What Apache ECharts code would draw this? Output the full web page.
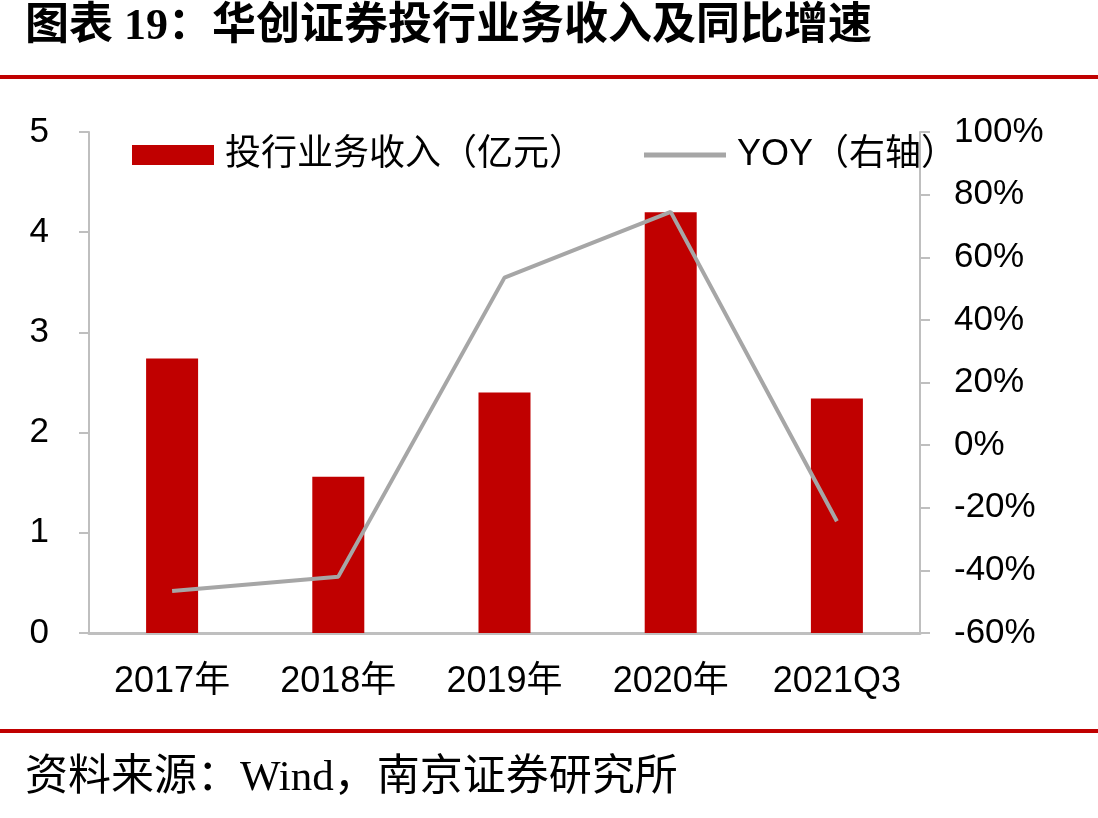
<!DOCTYPE html>
<html><head><meta charset="utf-8">
<script src="https://cdn.jsdelivr.net/npm/echarts@6/dist/echarts.min.js"></script>
<style>html,body{margin:0;padding:0;background:#fff}#c{width:1098px;height:818px}</style>
</head><body><div id="c"></div>
<script>
const categories = ['2017年','2018年','2019年','2020年','2021Q3'];
const revenue = [2.74, 1.56, 2.40, 4.20, 2.34];
const yoy = [-46.6, -42.0, 53.5, 74.5, -24.3];
const leftTicks = [0,1,2,3,4,5];
const rightTicks = [-60,-40,-20,0,20,40,60,80,100];
const titleText = '图表 19：华创证券投行业务收入及同比增速';
const sourceText = '资料来源：Wind，南京证券研究所';
const barName = '投行业务收入（亿元）';
const lineName = 'YOY（右轴）';

const chart = echarts.init(document.getElementById('c'));
const axisGray = '#BFBFBF';
const sans = 'Arial, "Liberation Sans", "Noto Sans CJK SC", sans-serif';
const serif = '"Liberation Serif", "Noto Sans CJK SC", serif';
chart.setOption({
  animation: false,
  backgroundColor: '#fff',
  grid: {left: 89, right: 178, top: 132, bottom: 185, containLabel: false},
  legend: {
    top: 132, left: 127,
    itemGap: 59,
    itemWidth: 82, itemHeight: 20,
    textStyle: {fontSize: 36, color: '#000', fontFamily: sans, padding: [0,0,0,6]},
    data: [
      {name: barName, icon: 'rect'},
      {name: lineName, icon: 'path://M0,0 L100,0 L100,6 L0,6 Z', itemStyle: {color: '#A6A6A6'}}
    ]
  },
  xAxis: {
    type: 'category', data: categories,
    axisLine: {lineStyle: {color: axisGray, width: 3}},
    axisTick: {show: false},
    axisLabel: {fontSize: 36, color: '#000', fontFamily: sans, margin: 31, interval: 0}
  },
  yAxis: [
    {type: 'value', min: leftTicks[0], max: leftTicks[leftTicks.length-1], interval: 1,
     axisLine: {show: true, lineStyle: {color: axisGray, width: 2}},
     axisTick: {show: true, length: 10, lineStyle: {color: axisGray, width: 2}},
     splitLine: {show: false},
     axisLabel: {fontSize: 35, color: '#000', fontFamily: sans, margin: 40}},
    {type: 'value', min: rightTicks[0], max: rightTicks[rightTicks.length-1], interval: 20,
     axisLine: {show: true, lineStyle: {color: axisGray, width: 2}},
     axisTick: {show: true, length: 10, lineStyle: {color: axisGray, width: 2}},
     splitLine: {show: false},
     axisLabel: {fontSize: 35, color: '#000', fontFamily: sans, margin: 34, formatter: v => v + '%'}}
  ],
  series: [
    {name: barName, type: 'bar', data: revenue, barWidth: 52, yAxisIndex: 0,
     itemStyle: {color: '#C00000'}},
    {name: lineName, type: 'line', data: yoy, yAxisIndex: 1, symbol: 'none',
     lineStyle: {color: '#A6A6A6', width: 4}, itemStyle: {color: '#A6A6A6'}}
  ],
  graphic: [
    {type: 'text', left: 25, top: 6, style: {text: titleText, fontSize: 44, fontWeight: 'bold', fontFamily: serif, fill: '#000'}},
    {type: 'rect', shape: {x: 0, y: 75, width: 1098, height: 4}, style: {fill: '#C00000'}},
    {type: 'rect', shape: {x: 0, y: 729, width: 1098, height: 4}, style: {fill: '#C00000'}},
    {type: 'text', left: 25, top: 757, style: {text: sourceText, fontSize: 43, fontFamily: serif, fill: '#000'}}
  ]
});
</script></body></html>
